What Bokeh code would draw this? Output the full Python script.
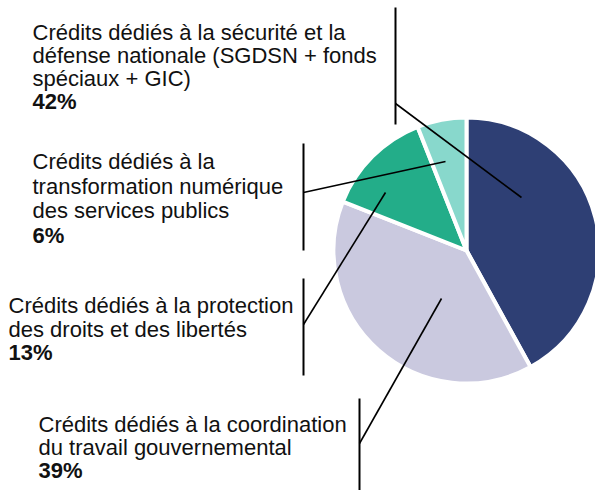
import math
from bokeh.plotting import figure
from bokeh.models import Range1d
from bokeh.core.properties import value
from bokeh.embed import file_html
from bokeh.resources import INLINE

# ---- data ----
categories = [
    "Crédits dédiés à la sécurité et la défense nationale (SGDSN + fonds spéciaux + GIC)",
    "Crédits dédiés à la coordination du travail gouvernemental",
    "Crédits dédiés à la protection des droits et des libertés",
    "Crédits dédiés à la transformation numérique des services publics",
]
shares = [42, 39, 13, 6]
colors = ["#2E3F74", "#CAC9DF", "#23AD89", "#88D8CC"]
label_lines = [
    ["Crédits dédiés à la sécurité et la", "défense nationale (SGDSN + fonds", "spéciaux + GIC)"],
    ["Crédits dédiés à la coordination", "du travail gouvernemental"],
    ["Crédits dédiés à la protection", "des droits et des libertés"],
    ["Crédits dédiés à la", "transformation numérique", "des services publics"],
]
pct_labels = [f"{v}%" for v in shares]

# ---- layout (screen pixel coordinates, y downward) ----
W, H = 595, 490


def Y(py):
    return H - py


cx, cy, R = 466, 250, 133
label_x = [32, 38, 8, 32]
label_y0 = [32, 424, 305, 161]
line_gap = [23, 23, 23.5, 24.5]
leaders = [  # (bar x, bar top, bar bottom, join y, end x, end y)
    (395, 7, 124, 103, 521, 197),
    (359, 398, 492, 443, 441, 298),
    (303, 278, 375, 324, 385, 192),
    (303, 143, 250, 192, 445, 161),
]

p = figure(width=W, height=H, output_backend="svg", toolbar_location=None,
           x_range=Range1d(0, W), y_range=Range1d(0, H),
           min_border=0)
p.axis.visible = False
p.grid.visible = False
p.outline_line_color = None
p.background_fill_color = "white"

# pie: start at 12 o'clock, clockwise
total = sum(shares)
cum = 0
for v, c in zip(shares, colors):
    a0 = math.pi / 2 - 2 * math.pi * cum / total
    a1 = math.pi / 2 - 2 * math.pi * (cum + v) / total
    p.wedge(x=cx, y=Y(cy), radius=R, start_angle=a1, end_angle=a0,
            direction="anticlock", fill_color=c, line_color="white", line_width=4)
    cum += v

# leader lines
for bx, bt, bb, jy, ex, ey in leaders:
    p.line([bx, bx], [Y(bt), Y(bb)], line_color="black", line_width=2)
    p.line([bx, ex], [Y(jy), Y(ey)], line_color="black", line_width=1.6)

# labels
FONT = value("Liberation Sans")
for i in range(len(shares)):
    xs, ys, ts = [], [], []
    for j, t in enumerate(label_lines[i]):
        xs.append(label_x[i])
        ys.append(Y(label_y0[i] + j * line_gap[i]))
        ts.append(t)
    p.text(x=xs, y=ys, text=ts, text_font=FONT, text_font_size="22px",
           text_baseline="middle", text_align="left", text_color="#111111")
    n = len(label_lines[i])
    p.text(x=[label_x[i]], y=[Y(label_y0[i] + n * line_gap[i])], text=[pct_labels[i]],
           text_font=FONT, text_font_size="22px", text_font_style="bold",
           text_baseline="middle", text_align="left", text_color="#111111")

open("out.html", "w").write(file_html(p, INLINE))
